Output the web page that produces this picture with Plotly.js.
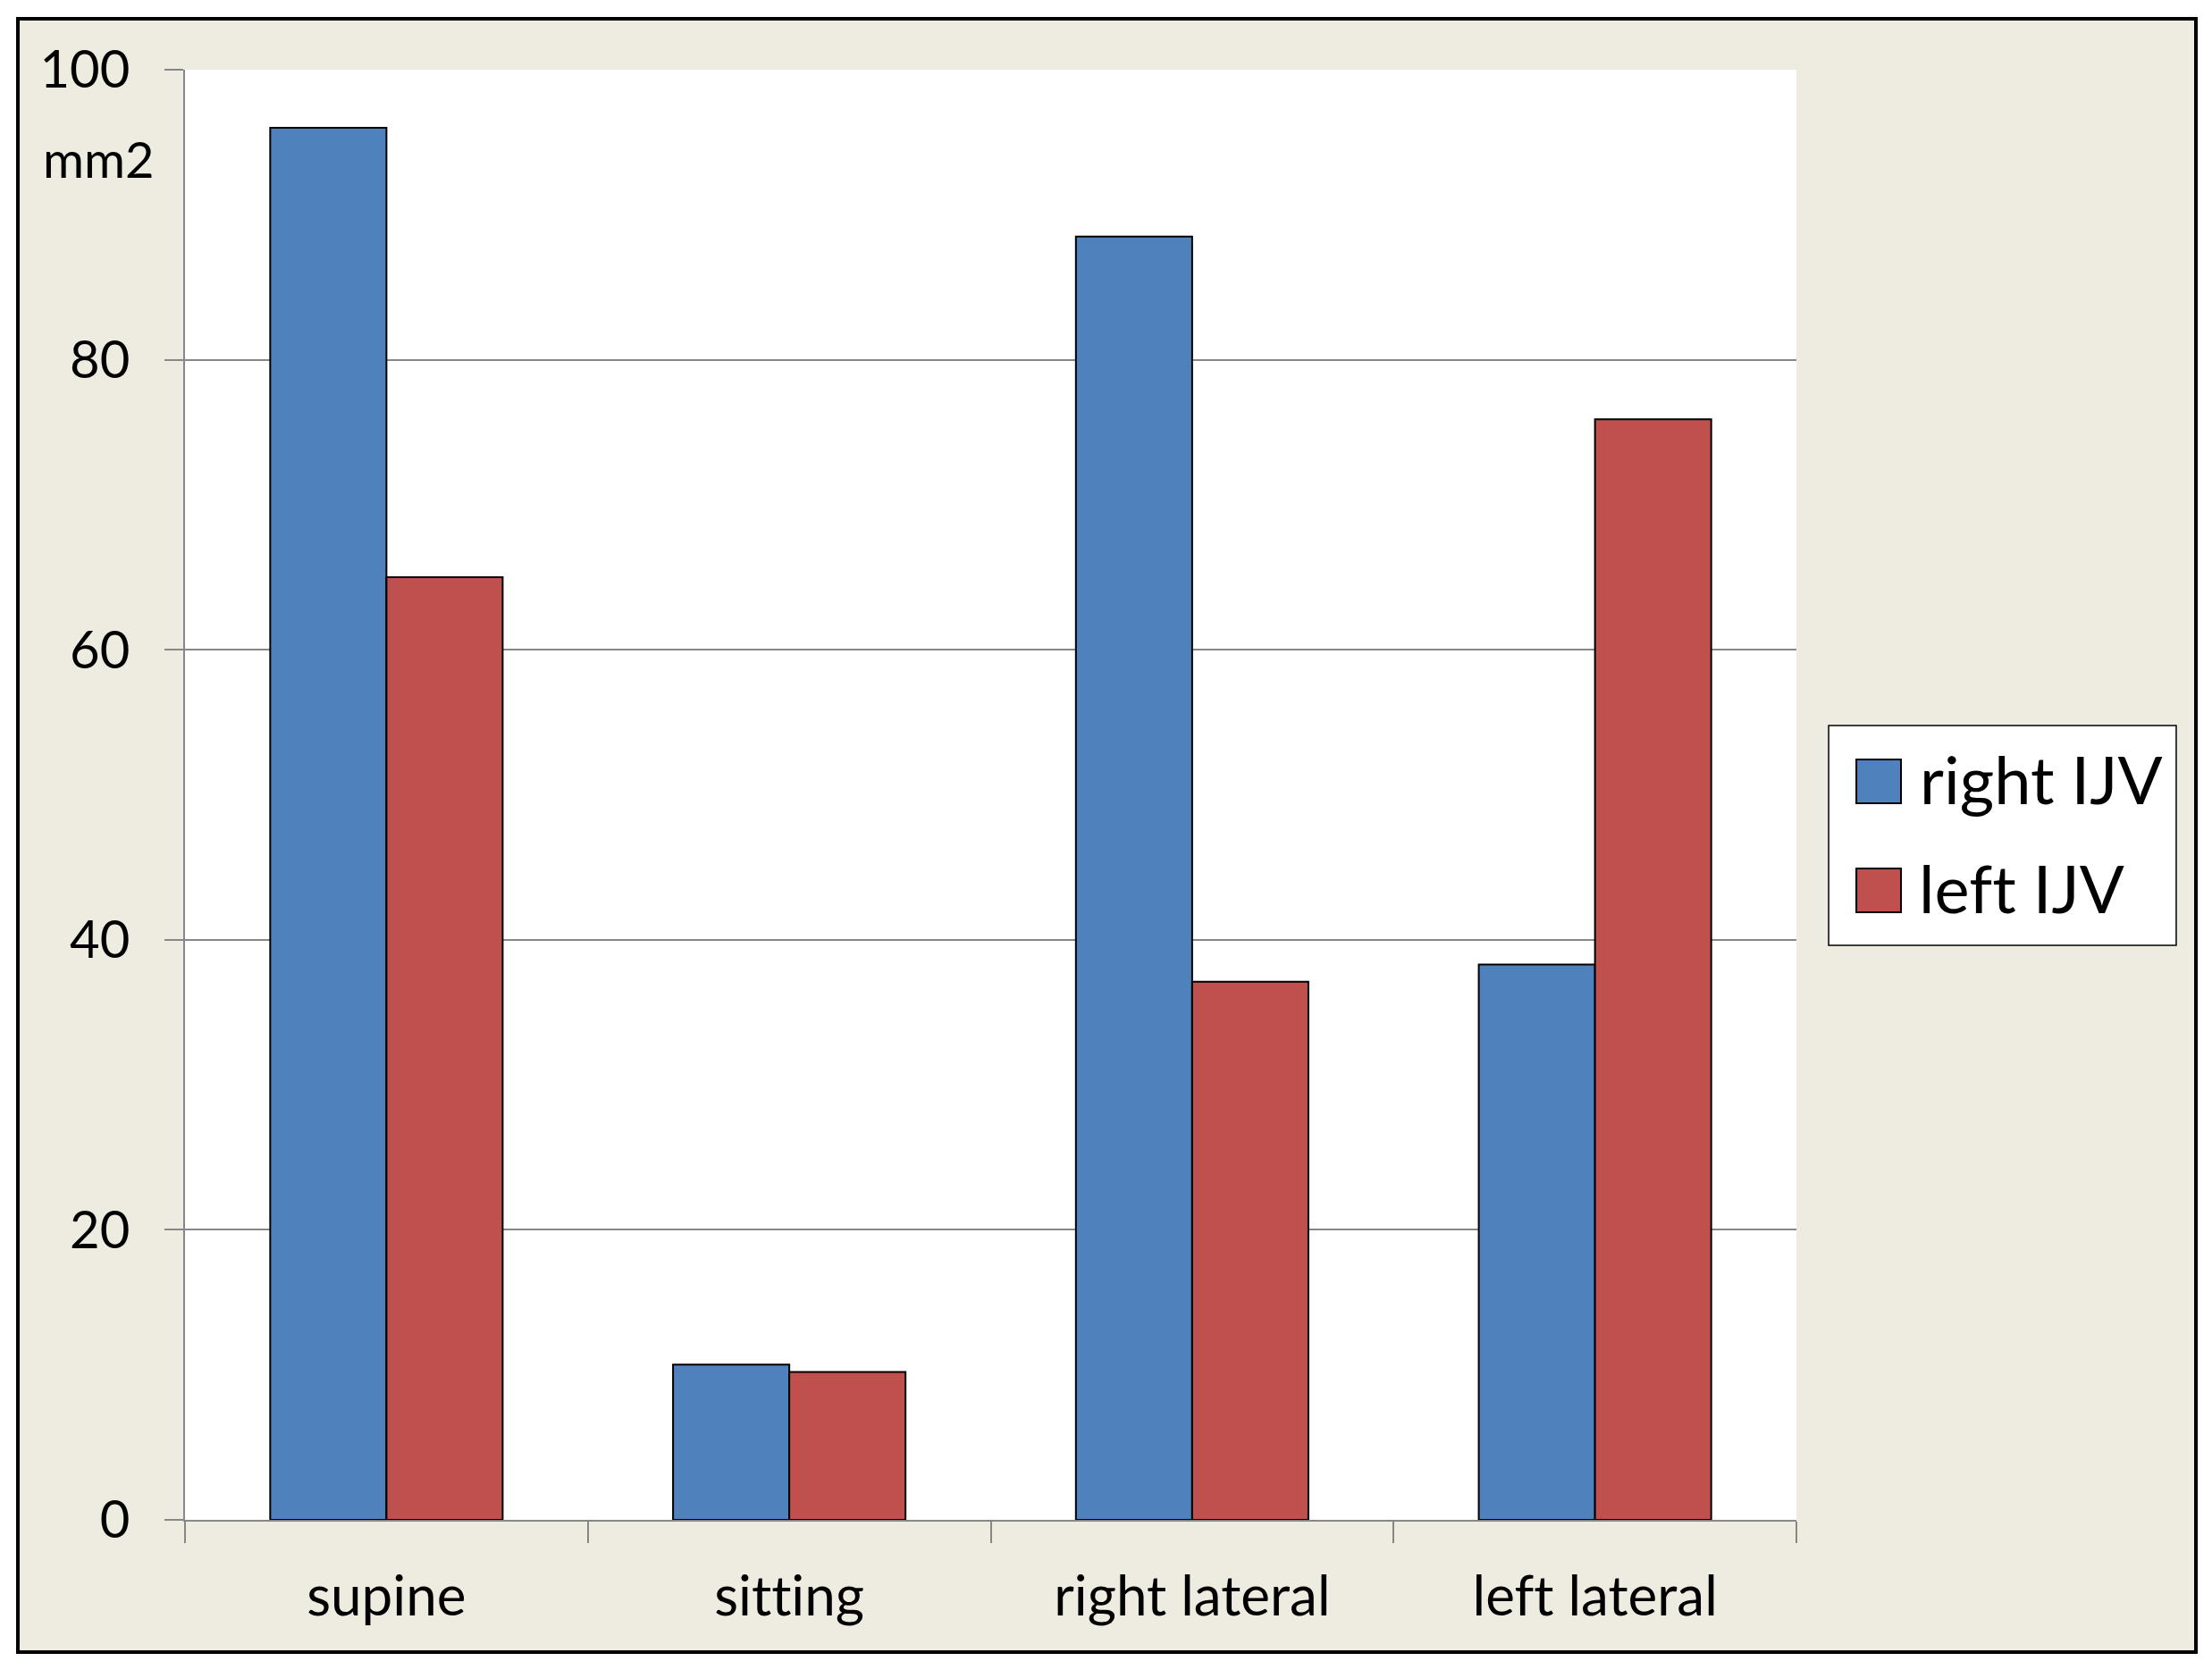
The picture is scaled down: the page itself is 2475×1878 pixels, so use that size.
<!DOCTYPE html>
<html>
<head>
<meta charset="utf-8">
<script src="https://cdn.plot.ly/plotly-3.0.1.min.js"></script>
<style>
  html, body { margin: 0; padding: 0; background: #ffffff; }
  #frame { position: absolute; left: 18px; top: 19px; width: 2433px; height: 1824px; border: 4px solid #000000; background: #EEECE1; }
  #chart { width: 2433px; height: 1824px; }
  #chart text { font-variant-ligatures: none; font-feature-settings: "liga" 0, "clig" 0; }
</style>
</head>
<body>
<div id="frame"><div id="chart"></div></div>
<script>
// Data
const categories = ["supine", "sitting", "right lateral", "left lateral"];
const rightIJV = [96, 10.7, 88.5, 38.3];
const leftIJV = [65, 10.2, 37.1, 75.9];
const seriesNames = ["right IJV", "left IJV"];
const yTickValues = [0, 20, 40, 60, 80, 100];
const yUnitLabel = "mm2";

const blue = "#4F81BD";
const red = "#C0504D";
const gray = "#878787";
const font = "Lato, 'Open Sans', sans-serif";

const traces = [
  { type: "bar", name: seriesNames[0], x: categories, y: rightIJV,
    marker: { color: blue, line: { color: "#000000", width: 2 } } },
  { type: "bar", name: seriesNames[1], x: categories, y: leftIJV,
    marker: { color: red, line: { color: "#000000", width: 2 } } }
];

// custom legend geometry (paper coords)
const lg = { x0: 1.0200, x1: 1.2357, y0: 0.3962, y1: 0.5478 };
const sw = { x0: 1.0372, x1: 1.0649 };
const rows = [ { y0: 0.4941, y1: 0.5243, color: blue, label: seriesNames[0] },
               { y0: 0.4190, y1: 0.4492, color: red, label: seriesNames[1] } ];

const shapes = [
  { type: "rect", xref: "paper", yref: "paper", x0: lg.x0, x1: lg.x1, y0: lg.y0, y1: lg.y1,
    fillcolor: "#ffffff", line: { color: "#000000", width: 1.5 } }
];
const annotations = [
  { xref: "paper", yref: "paper", x: -0.0893, y: 0.9384, xanchor: "left", yanchor: "middle",
    text: yUnitLabel, showarrow: false, font: { family: font, size: 56, color: "#000000" } }
];
rows.forEach(r => {
  shapes.push({ type: "rect", xref: "paper", yref: "paper", x0: sw.x0, x1: sw.x1, y0: r.y0, y1: r.y1,
    fillcolor: r.color, line: { color: "#000000", width: 2 } });
  annotations.push({ xref: "paper", yref: "paper", x: 1.0755, y: (r.y0 + r.y1) / 2 + 0.002,
    xanchor: "left", yanchor: "middle", text: r.label, showarrow: false,
    font: { family: font, size: 74, color: "#000000" } });
});

const layout = {
  width: 2433, height: 1824,
  paper_bgcolor: "#EEECE1",
  plot_bgcolor: "#ffffff",
  margin: { l: 185, r: 445, t: 55, b: 146, pad: 0 },
  barmode: "group",
  bargap: 0.423,
  bargroupgap: 0,
  showlegend: false,
  font: { family: font, color: "#000000" },
  xaxis: {
    type: "category",
    showline: true, linecolor: gray, linewidth: 2,
    showgrid: false, zeroline: false,
    ticks: "outside", tickson: "boundaries", ticklen: 24, tickwidth: 2, tickcolor: gray,
    ticklabelstandoff: 31,
    tickfont: { family: font, size: 62, color: "#000000" }
  },
  yaxis: {
    range: [0, 100],
    tickmode: "array", tickvals: yTickValues,
    showline: true, linecolor: gray, linewidth: 2,
    showgrid: true, gridcolor: gray, gridwidth: 2,
    zeroline: false,
    ticks: "outside", ticklen: 21, tickwidth: 2, tickcolor: gray,
    ticklabelstandoff: 27,
    tickfont: { family: font, size: 58, color: "#000000" }
  },
  shapes: shapes,
  annotations: annotations
};

Plotly.newPlot("chart", traces, layout, { displayModeBar: false, staticPlot: true });
</script>
</body>
</html>
